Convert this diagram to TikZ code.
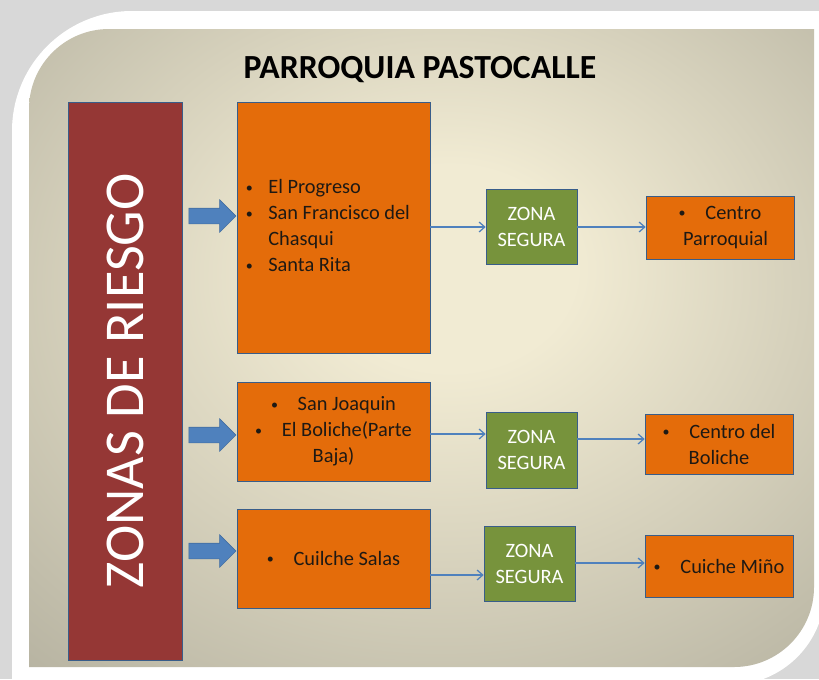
\documentclass[tikz,border=0pt]{standalone}
\usepackage{fontspec}
\setmainfont{Carlito}
\usepackage{xcolor}
\usetikzlibrary{arrows.meta, positioning, shapes.arrows}
\definecolor{riskred}{RGB}{149,55,53}
\definecolor{zoneorange}{RGB}{228,108,10}
\definecolor{safegreen}{RGB}{119,147,60}
\definecolor{flowblue}{RGB}{79,129,189}
\definecolor{edgeblue}{RGB}{56,93,138}
\definecolor{inktext}{RGB}{30,25,20}
\definecolor{paper}{RGB}{216,216,216}
\definecolor{bgcenter}{RGB}{241,235,211}
\definecolor{bgedge}{RGB}{166,163,147}
\definecolor{bgcorner}{RGB}{136,134,122}
\pgfdeclareradialshading{parishglow}{\pgfpoint{2bp}{7bp}}{%
  color(0bp)=(bgcenter); color(8bp)=(bgcenter);
  color(48bp)=(bgedge); color(75bp)=(bgcorner)}
\newcommand\zonefont{\fontsize{14.5}{18.5}\selectfont}
\newcommand\zb{{\fontsize{10}{10}\selectfont\raisebox{1.2pt}{\textbullet}}}

\begin{document}
\begin{tikzpicture}[
        x=0.025cm, y=-0.025cm,
        riskbox/.style={rotate=90, fill=riskred, draw=edgeblue, text=white,
                  minimum width=13.95cm, minimum height=2.85cm, inner sep=0pt,
                  font=\fontsize{40}{40}\selectfont},
        zonebox/.style={fill=zoneorange, draw=edgeblue, text=inktext,
                  minimum width=4.825cm, inner sep=0pt, align=center, font=\zonefont},
        safebox/.style={fill=safegreen, draw=edgeblue, text=white,
                  minimum width=2.275cm, minimum height=1.9cm, inner sep=0pt,
                  align=center, font=\zonefont},
        destbox/.style={fill=zoneorange, draw=edgeblue, text=inktext,
                  minimum width=3.7cm, inner sep=0pt, align=center, font=\zonefont},
        blockarr/.style={single arrow, fill=flowblue, draw=flowblue!85!black,
                  minimum height=1.175cm, inner xsep=0pt, inner ysep=0.1875cm,
                  single arrow head extend=0.2125cm},
        flow/.style={-{Straight Barb[length=4pt, width=7pt]}, flowblue, line width=0.9pt},
        title/.style={font=\bfseries\fontsize{24}{24}\selectfont},
      ]
        \useasboundingbox (0,0) rectangle (819,679);

        % frame and shaded panel
        \fill[paper] (0,0) rectangle (819,679);
        \fill[white] (12,685) -- (12,131) arc[start angle=180, end angle=270, radius=120]
          -- (825,11) -- (825,590) arc[start angle=0, end angle=90, radius=95] -- cycle;
        \shade[shading=parishglow] (29,667) -- (29,109)
          arc[start angle=180, end angle=270, radius=80]
          -- (814,29) -- (814,587) arc[start angle=0, end angle=90, radius=80] -- cycle;

        \node[title] (head) at (420,70) {PARROQUIA PASTOCALLE};
        \node[riskbox] (riesgo) at (125,381) {ZONAS DE RIESGO};

        % risk zones
        \node[zonebox, minimum height=6.275cm] (z1) at (333.5,227.5)
          {\begin{tabular}{@{}l@{\hspace{11pt}}l@{}}
             \zb & El Progreso\\
             \zb & San Francisco del\\
                 & Chasqui\\
             \zb & Santa Rita
           \end{tabular}\hspace{8pt}};
        \node[zonebox, minimum height=2.475cm] (z2) at (333.5,431.5)
          {\zb\hspace{14pt}San Joaquin\\
           \zb\hspace{14pt}El Boliche(Parte\\ Baja)};
        \node[zonebox, minimum height=2.475cm] (z3) at (333.5,558.5)
          {\zb\hspace{14pt}Cuilche Salas};

        % safe zones
        \node[safebox, minimum height=1.875cm] (s1) at (531.5,227) {ZONA\\SEGURA};
        \node[safebox] (s2) at (531.5,450) {ZONA\\SEGURA};
        \node[safebox, minimum height=1.875cm] (s3) at (529.5,563.5) {ZONA\\SEGURA};

        % meeting points
        \node[destbox, minimum height=1.575cm] (d1) at (720,227.5)
          {\zb\hspace{14pt}Centro\\ \hspace{8pt}Parroquial};
        \node[destbox, minimum height=1.5cm] (d2) at (719,444)
          {\zb\hspace{14pt}Centro del\\ Boliche};
        \node[destbox, minimum height=1.55cm] (d3) at (719,566)
          {\zb\hspace{14pt}Cuiche Miño};

        \node[blockarr] (b1) at (208.5,216) {};
        \node[blockarr] (b2) at (208.5,435) {};
        \node[blockarr] (b3) at (208.5,551) {};

        \draw[flow] (z1.east |- 0,227) -- (s1.west |- 0,227);
        \draw[flow] (s1.east |- 0,227) -- (d1.west |- 0,227);
        \draw[flow] (z2.east |- 0,434) -- (s2.west |- 0,434);
        \draw[flow] (s2.east |- 0,439) -- (d2.west |- 0,439);
        \draw[flow] (z3.east |- 0,575) -- (s3.west |- 0,575);
        \draw[flow] (s3.east |- 0,563) -- (d3.west |- 0,563);
      \end{tikzpicture}
\end{document}
